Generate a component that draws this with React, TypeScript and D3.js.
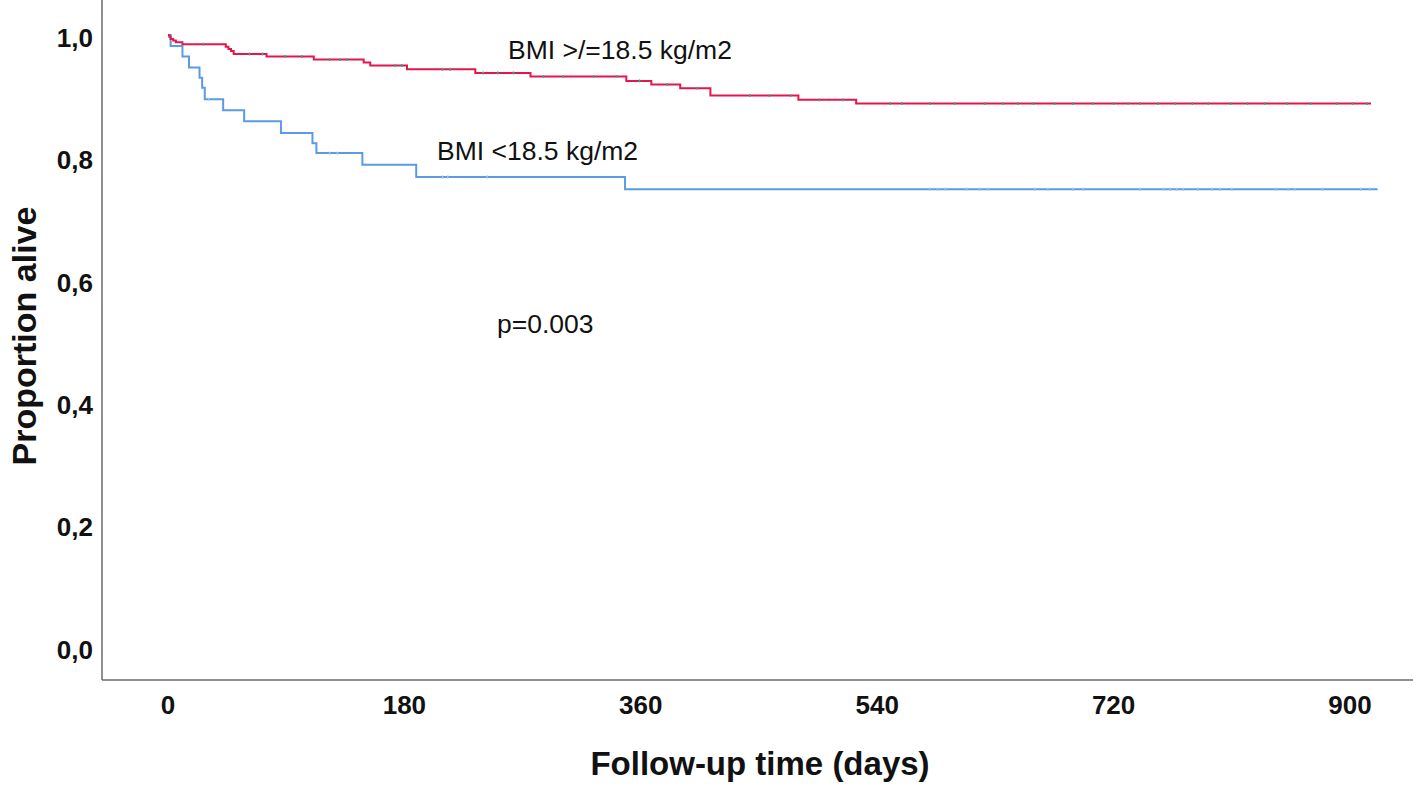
import React, { useEffect, useRef } from 'react';
import * as d3 from 'd3';

// Kaplan-Meier steps: [day, proportion alive after the event]
const normalSteps: [number, number][] = [
  [0, 1.0], [1, 0.997], [2, 0.9935], [4, 0.991], [6, 0.988], [11, 0.985],
  [44, 0.981], [46, 0.977], [48, 0.974], [50, 0.969], [75, 0.965], [111, 0.96],
  [149, 0.955], [154, 0.95], [182, 0.944], [234, 0.938], [276, 0.932],
  [349, 0.925], [368, 0.919], [390, 0.913], [413, 0.901], [480, 0.894], [524, 0.888],
];
const normalEnd = 916;
const normalCensored = [
  27, 62, 72, 89, 102, 123, 131, 136, 173, 178, 209, 215, 240, 251, 263, 286, 301,
  324, 342, 359, 380, 403, 443, 458, 474, 496, 514, 550, 559, 580, 599, 622, 636,
  647, 659, 675, 689, 704, 720, 731, 740, 754, 767, 780, 792, 809, 822, 835, 852,
  870, 890, 902, 913,
];

const lowSteps: [number, number][] = [
  [0, 1.0], [2, 0.982], [11, 0.965], [16, 0.947], [24, 0.93], [26, 0.914],
  [28, 0.895], [42, 0.877], [58, 0.859], [86, 0.84], [110, 0.823], [113, 0.807],
  [148, 0.788], [189, 0.768], [348, 0.748],
];
const lowEnd = 921;
const lowCensored = [
  31, 123, 129, 209, 213, 243, 580, 586, 592, 608, 618, 624, 660, 670, 689, 697,
  740, 758, 763, 768, 773, 784, 795, 801, 810, 844, 853, 858, 879, 908, 915,
];

const xTicks = [0, 180, 360, 540, 720, 900];
const yTicks = [0, 0.2, 0.4, 0.6, 0.8, 1.0];

const W = 1418;
const H = 786;

const App = () => {
  const svgRef = useRef<SVGSVGElement>(null);

  useEffect(() => {
    const svg = d3.select(svgRef.current);
    svg.selectAll('*').remove();

    const font = '"Liberation Sans", Arial, sans-serif';
    const x = d3.scaleLinear().domain([0, 900]).range([168, 1350]);
    const y = d3.scaleLinear().domain([0, 1]).range([647, 35]);

    // axes frame
    svg.append('line')
      .attr('x1', 102).attr('x2', 102).attr('y1', 0).attr('y2', 680)
      .attr('stroke', '#6b6b6b').attr('stroke-width', 1.5);
    svg.append('line')
      .attr('x1', 102).attr('x2', 1413).attr('y1', 680).attr('y2', 680)
      .attr('stroke', '#6b6b6b').attr('stroke-width', 1.5);

    svg.append('g').selectAll('text')
      .data(yTicks).enter().append('text')
      .attr('x', 93).attr('y', d => y(d) + 5)
      .attr('text-anchor', 'end').attr('dominant-baseline', 'middle')
      .attr('font-family', font).attr('font-size', 26).attr('font-weight', 'bold')
      .attr('fill', '#111')
      .text(d => d3.format('.1f')(d).replace('.', ','));

    svg.append('g').selectAll('text')
      .data(xTicks).enter().append('text')
      .attr('x', d => x(d)).attr('y', 707)
      .attr('text-anchor', 'middle').attr('dominant-baseline', 'middle')
      .attr('font-family', font).attr('font-size', 26).attr('font-weight', 'bold')
      .attr('fill', '#111')
      .text(d => String(d));

    svg.append('text')
      .attr('transform', 'translate(27,336) rotate(-90)')
      .attr('text-anchor', 'middle').attr('dominant-baseline', 'middle')
      .attr('font-family', font).attr('font-size', 34).attr('font-weight', 'bold')
      .attr('fill', '#111')
      .text('Proportion alive');

    svg.append('text')
      .attr('x', 760).attr('y', 766)
      .attr('text-anchor', 'middle').attr('dominant-baseline', 'middle')
      .attr('font-family', font).attr('font-size', 33).attr('font-weight', 'bold')
      .attr('fill', '#111')
      .text('Follow-up time (days)');

    const drawCurve = (steps: [number, number][], end: number, censored: number[],
      color: string, markColor: string) => {
      const pts: [number, number][] = [...steps, [end, steps[steps.length - 1][1]]];
      const line = d3.line<[number, number]>()
        .x(d => x(d[0])).y(d => y(d[1]))
        .curve(d3.curveStepAfter);
      svg.append('path')
        .attr('d', line(pts))
        .attr('fill', 'none').attr('stroke', color)
        .attr('stroke-width', 2);

      const survAt = (t: number) => {
        let s = 1;
        for (const [d, v] of steps) if (d <= t) s = v;
        return s;
      };
      svg.append('g').selectAll('line')
        .data(censored).enter().append('line')
        .attr('x1', d => x(d)).attr('x2', d => x(d))
        .attr('y1', d => y(survAt(d)) - 1.5).attr('y2', d => y(survAt(d)) + 1.5)
        .attr('stroke', markColor).attr('stroke-width', 1.5);
    };

    drawCurve(lowSteps, lowEnd, lowCensored, '#5b9ae6', '#9cc2ef');
    drawCurve(normalSteps, normalEnd, normalCensored, '#e4174b', '#3aa69a');

    const label = (tx: number, ty: number, s: string) =>
      svg.append('text')
        .attr('x', tx).attr('y', ty)
        .attr('dominant-baseline', 'middle')
        .attr('font-family', font).attr('font-size', 26.5)
        .attr('fill', '#111')
        .text(s);

    label(508, 52, 'BMI >/=18.5 kg/m2');
    label(437, 153, 'BMI <18.5 kg/m2');
    label(497, 326, 'p=0.003');
  }, []);

  return (
    <svg ref={svgRef} width={W} height={H}
      style={{ position: 'absolute', left: 0, top: 0, background: '#fff' }} />
  );
};

export default App;
